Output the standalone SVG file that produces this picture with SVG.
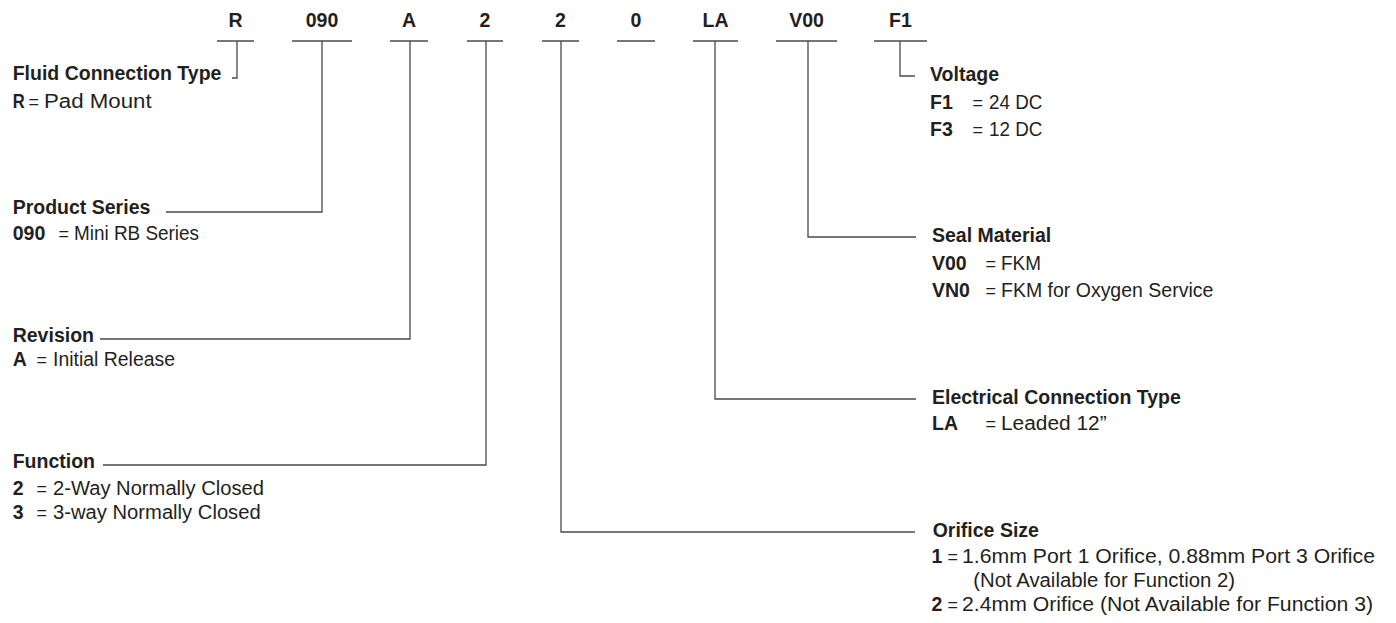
<svg xmlns="http://www.w3.org/2000/svg" width="1396" height="623" viewBox="0 0 1396 623">
<style>
text{font-family:"Liberation Sans",Arial,sans-serif;fill:#231f20}
.code{font-size:19.5px;font-weight:bold;text-anchor:middle}
.h{font-size:19.5px;font-weight:bold}
.k{font-size:19.5px;font-weight:bold}
.t{font-size:20px}
.eq{font-size:18px}
.ul{stroke:#4a4a4a;stroke-width:1.3;fill:none}
.c{stroke:#4a4a4a;stroke-width:1.3;fill:none}
</style>
<rect width="1396" height="623" fill="#fff"/>
<g id="codes">
<g id="code-R"><text class="code" x="235.5" y="27">R</text><line class="ul" x1="217" y1="41" x2="254" y2="41"/></g>
<g id="code-090"><text class="code" x="322" y="27">090</text><line class="ul" x1="292" y1="41" x2="352" y2="41"/></g>
<g id="code-A"><text class="code" x="409" y="27">A</text><line class="ul" x1="390" y1="41" x2="428" y2="41"/></g>
<g id="code-2a"><text class="code" x="485" y="27">2</text><line class="ul" x1="467" y1="41" x2="503" y2="41"/></g>
<g id="code-2b"><text class="code" x="560.5" y="27">2</text><line class="ul" x1="542" y1="41" x2="579" y2="41"/></g>
<g id="code-0"><text class="code" x="636" y="27">0</text><line class="ul" x1="617" y1="41" x2="655" y2="41"/></g>
<g id="code-LA"><text class="code" x="715.5" y="27">LA</text><line class="ul" x1="693" y1="41" x2="738" y2="41"/></g>
<g id="code-V00"><text class="code" x="806.5" y="27">V00</text><line class="ul" x1="776" y1="41" x2="837" y2="41"/></g>
<g id="code-F1"><text class="code" x="900.5" y="27">F1</text><line class="ul" x1="874" y1="41" x2="927" y2="41"/></g>
</g>
<g id="connectors">
<path class="c" d="M237,41V78H232"/>
<path class="c" d="M322,41V212H166"/>
<path class="c" d="M410,41V339H100"/>
<path class="c" d="M486,41V465H103"/>
<path class="c" d="M561,41V532H915"/>
<path class="c" d="M715,41V399H916"/>
<path class="c" d="M808,41V237H916"/>
<path class="c" d="M900,41V76H915"/>
</g>
<g id="fluid">
<text class="h" x="12.7" y="80">Fluid Connection Type</text>
<text class="k" x="12.7" y="108" textLength="12" lengthAdjust="spacingAndGlyphs">R</text><text class="t eq" x="28.5" y="108">=</text>
<text class="t" x="44" y="108" textLength="107.7" lengthAdjust="spacingAndGlyphs">Pad Mount</text>
</g>
<g id="series">
<text class="h" x="12.7" y="214">Product Series</text>
<text class="k" x="12.7" y="239.5">090</text><text class="t eq" x="58.5" y="239.5">=</text>
<text class="t" x="74" y="239.5" textLength="125" lengthAdjust="spacingAndGlyphs">Mini RB Series</text>
</g>
<g id="revision">
<text class="h" x="12.7" y="341.7">Revision</text>
<text class="k" x="12.7" y="365.7">A</text><text class="t eq" x="36.5" y="365.7">=</text>
<text class="t" x="53" y="365.7" textLength="122" lengthAdjust="spacingAndGlyphs">Initial Release</text>
</g>
<g id="function">
<text class="h" x="12.7" y="468.3">Function</text>
<text class="k" x="12.7" y="495">2</text><text class="t eq" x="36.5" y="495">=</text>
<text class="t" x="53" y="495" textLength="211" lengthAdjust="spacingAndGlyphs">2-Way Normally Closed</text>
<text class="k" x="12.7" y="519.3">3</text><text class="t eq" x="36.5" y="519.3">=</text>
<text class="t" x="53" y="519.3" textLength="207.7" lengthAdjust="spacingAndGlyphs">3-way Normally Closed</text>
</g>
<g id="voltage">
<text class="h" x="930" y="81">Voltage</text>
<text class="k" x="930" y="109">F1</text><text class="t eq" x="972.5" y="109">=</text>
<text class="t" x="989" y="109" textLength="53.3" lengthAdjust="spacingAndGlyphs">24 DC</text>
<text class="k" x="930" y="136">F3</text><text class="t eq" x="972.5" y="136">=</text>
<text class="t" x="989" y="136" textLength="53.3" lengthAdjust="spacingAndGlyphs">12 DC</text>
</g>
<g id="seal">
<text class="h" x="932" y="242.3">Seal Material</text>
<text class="k" x="932" y="270">V00</text><text class="t eq" x="985.5" y="270">=</text>
<text class="t" x="1001" y="270" textLength="40" lengthAdjust="spacingAndGlyphs">FKM</text>
<text class="k" x="932" y="296.7">VN0</text><text class="t eq" x="985.5" y="296.7">=</text>
<text class="t" x="1001" y="296.7" textLength="212.3" lengthAdjust="spacingAndGlyphs">FKM for Oxygen Service</text>
</g>
<g id="electrical">
<text class="h" x="932" y="404">Electrical Connection Type</text>
<text class="k" x="932" y="430">LA</text><text class="t eq" x="985.5" y="430">=</text>
<text class="t" x="1001" y="430" textLength="105.7" lengthAdjust="spacingAndGlyphs">Leaded 12”</text>
</g>
<g id="orifice">
<text class="h" x="932.7" y="537">Orifice Size</text>
<text class="k" x="931.5" y="563">1</text><text class="t eq" x="947.5" y="563">=</text>
<text class="t" x="962" y="563" textLength="413" lengthAdjust="spacingAndGlyphs">1.6mm Port 1 Orifice, 0.88mm Port 3 Orifice</text>
<text class="t" x="973.3" y="586.5" textLength="261.7" lengthAdjust="spacingAndGlyphs">(Not Available for Function 2)</text>
<text class="k" x="931.5" y="611">2</text><text class="t eq" x="947.5" y="611">=</text>
<text class="t" x="962" y="611" textLength="411" lengthAdjust="spacingAndGlyphs">2.4mm Orifice (Not Available for Function 3)</text>
</g>
</svg>
